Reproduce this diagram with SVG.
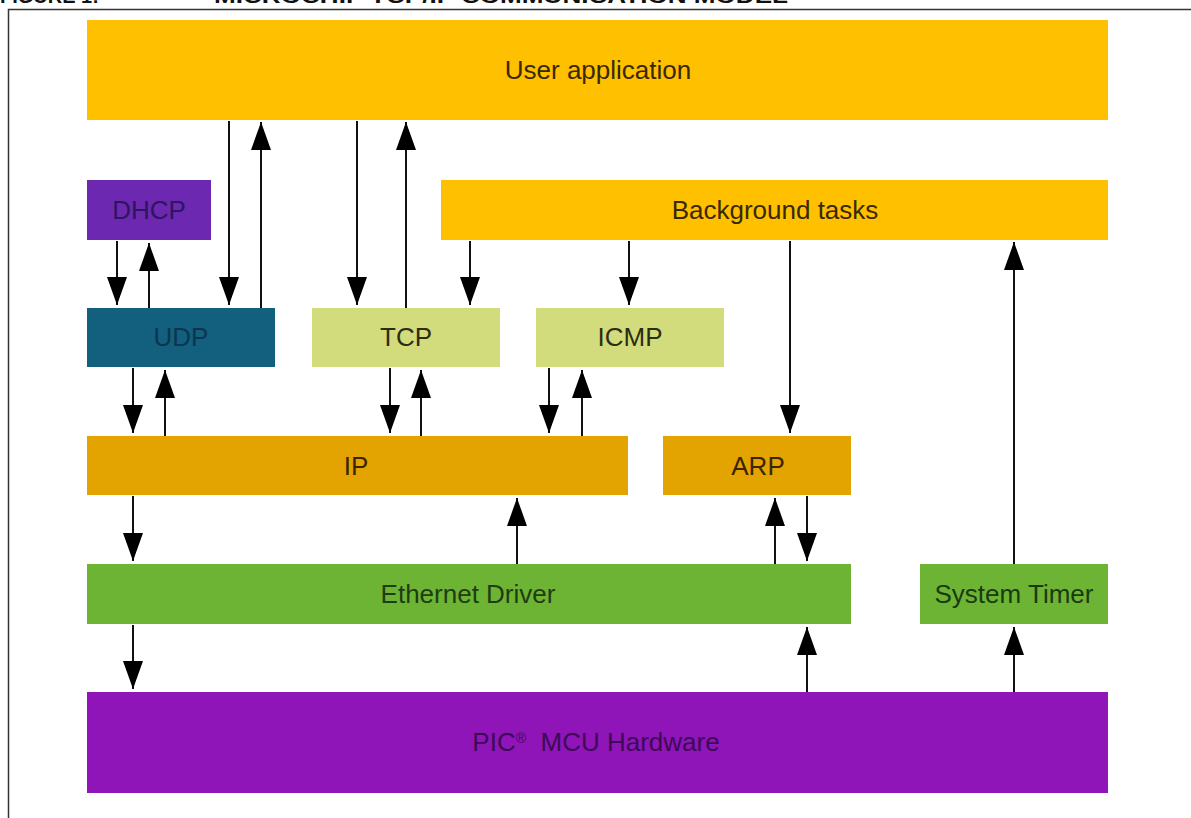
<svg xmlns="http://www.w3.org/2000/svg" width="1191" height="818" viewBox="0 0 1191 818">
  <style>
    .lbl { font-family: "Liberation Sans", Arial, sans-serif; font-size: 26px; text-anchor: middle; }
    .title { font-family: "Liberation Sans", Arial, sans-serif; font-size: 20px; font-weight: bold; fill: #111; }
    .conn line { stroke: #111; stroke-width: 2; marker-end: url(#ah); }
  </style>
  <defs>
    <marker id="ah" markerUnits="userSpaceOnUse" markerWidth="28" markerHeight="20" refX="28" refY="10" orient="auto">
      <path d="M0,0 L28,10 L0,20 Z" fill="#000"/>
    </marker>
  </defs>
  <rect width="1191" height="818" fill="#fff"/>
  <text class="title" x="0" y="3">FIGURE 1:</text>
  <text class="title" x="214" y="3" textLength="574" lengthAdjust="spacingAndGlyphs">MICROCHIP TCP/IP COMMUNICATION MODEL</text>
  <rect x="8.5" y="9.5" width="1200" height="820" fill="none" stroke="#333" stroke-width="1.5"/>

  <g id="user-application">
    <rect x="87" y="20" width="1021" height="100" fill="#FFC000"/>
    <text class="lbl" x="598" y="79" fill="#3a2800">User application</text>
  </g>
  <g id="dhcp">
    <rect x="87" y="180" width="124" height="60" fill="#6C28B0"/>
    <text class="lbl" x="149" y="219" fill="#2d1560">DHCP</text>
  </g>
  <g id="background-tasks">
    <rect x="441" y="180" width="667" height="60" fill="#FFC000"/>
    <text class="lbl" x="775" y="219" fill="#3a2800">Background tasks</text>
  </g>
  <g id="udp">
    <rect x="87" y="308" width="188" height="59" fill="#12607E"/>
    <text class="lbl" x="181" y="346" fill="#0b3550">UDP</text>
  </g>
  <g id="tcp">
    <rect x="312" y="308" width="188" height="59" fill="#D3DC7C"/>
    <text class="lbl" x="406" y="346" fill="#2d2d12">TCP</text>
  </g>
  <g id="icmp">
    <rect x="536" y="308" width="188" height="59" fill="#D3DC7C"/>
    <text class="lbl" x="630" y="346" fill="#2d2d12">ICMP</text>
  </g>
  <g id="ip">
    <rect x="87" y="436" width="541" height="59" fill="#E3A300"/>
    <text class="lbl" x="356" y="475" fill="#3a2500">IP</text>
  </g>
  <g id="arp">
    <rect x="663" y="436" width="188" height="59" fill="#E3A300"/>
    <text class="lbl" x="758" y="475" fill="#3a2500">ARP</text>
  </g>
  <g id="ethernet-driver">
    <rect x="87" y="564" width="764" height="60" fill="#6DB434"/>
    <text class="lbl" x="468" y="603" fill="#1f3d12">Ethernet Driver</text>
  </g>
  <g id="system-timer">
    <rect x="920" y="564" width="188" height="60" fill="#6DB434"/>
    <text class="lbl" x="1014" y="603" fill="#1a3a10">System Timer</text>
  </g>
  <g id="pic-mcu-hardware">
    <rect x="87" y="692" width="1021" height="101" fill="#8F15B9"/>
    <text class="lbl" x="596" y="751" fill="#3d0a55" xml:space="preserve">PIC<tspan font-size="14" baseline-shift="super">®</tspan>  MCU Hardware</text>
  </g>

  <g id="connectors" class="conn">
    <line x1="229" y1="121" x2="229" y2="305"/>
    <line x1="261" y1="308" x2="261" y2="122"/>
    <line x1="357" y1="121" x2="357" y2="305"/>
    <line x1="406" y1="308" x2="406" y2="122"/>
    <line x1="470" y1="241" x2="470" y2="305"/>
    <line x1="629" y1="241" x2="629" y2="305"/>
    <line x1="790" y1="241" x2="790" y2="433"/>
    <line x1="1014" y1="564" x2="1014" y2="242"/>
    <line x1="117" y1="241" x2="117" y2="305"/>
    <line x1="149" y1="308" x2="149" y2="243"/>
    <line x1="133" y1="368" x2="133" y2="433"/>
    <line x1="165" y1="436" x2="165" y2="370"/>
    <line x1="390" y1="368" x2="390" y2="433"/>
    <line x1="421" y1="436" x2="421" y2="370"/>
    <line x1="549" y1="368" x2="549" y2="433"/>
    <line x1="582" y1="436" x2="582" y2="370"/>
    <line x1="133" y1="496" x2="133" y2="561"/>
    <line x1="517" y1="564" x2="517" y2="498"/>
    <line x1="807" y1="496" x2="807" y2="561"/>
    <line x1="775" y1="564" x2="775" y2="498"/>
    <line x1="133" y1="625" x2="133" y2="689"/>
    <line x1="807" y1="692" x2="807" y2="627"/>
    <line x1="1014" y1="692" x2="1014" y2="627"/>
  </g>
</svg>
